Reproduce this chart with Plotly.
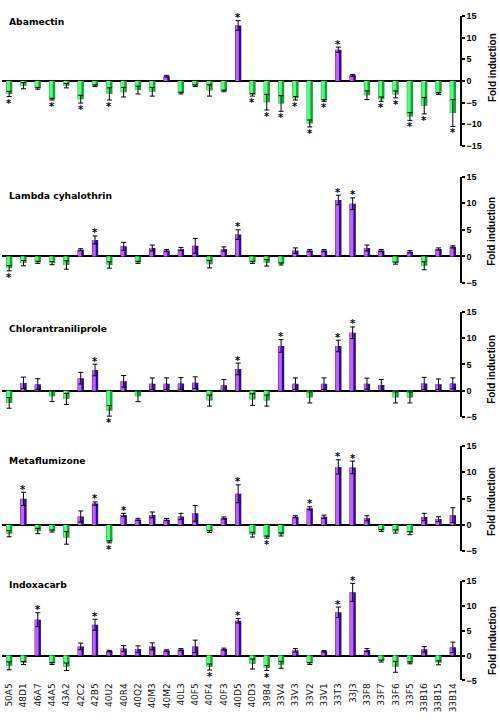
import plotly.graph_objects as go

genes = ["50A5", "48D1", "46A7", "44A5", "43A2", "42C2", "42B5", "40U2", "40R4", "40Q2",
         "40M3", "40M2", "40L3", "40F5", "40F4", "40F3", "40D5", "40D3", "39B4", "33V4",
         "33V3", "33V2", "33V1", "33T3", "33J3", "33F8", "33F7", "33F6", "33F5", "33B16",
         "33B15", "33B14"]

panel_titles = ["Abamectin", "Lambda cyhalothrin", "Chlorantraniliprole", "Metaflumizone", "Indoxacarb"]

abamectin = [-3.0, -1.1, -1.7, -4.2, -1.1, -4.2, -1.1, -3.0, -2.6, -2.1, -2.5, 1.1, -2.8, -1.1, -2.2, -2.3,
             12.8, -3.2, -4.9, -5.2, -4.0, -9.8, -4.5, 7.2, 1.3, -3.3, -4.2, -3.1, -8.2, -5.7, -2.9, -7.4]
abamectin_err = [0.6, 0.7, 0.2, 0.2, 0.5, 0.9, 0.2, 1.4, 1.1, 0.9, 1.0, 0.2, 0.2, 0.2, 1.3, 0.2,
                 1.1, 0.3, 1.8, 1.8, 0.4, 0.8, 0.2, 0.6, 0.2, 1.0, 0.5, 0.8, 0.9, 1.9, 0.2, 3.1]
abamectin_sig = [0, 3, 5, 7, 16, 17, 18, 19, 20, 21, 22, 23, 26, 27, 28, 29, 31]

lambda_cy = [-2.2, -1.25, -1.1, -1.25, -1.6, 1.25, 3.1, -1.6, 1.9, -1.1, 1.6, 1.1, 1.4, 2.0, -1.45, 1.4,
             4.1, -1.1, -1.2, -1.4, 1.1, 1.1, 1.1, 10.6, 9.9, 1.6, 1.1, -1.25, 0.9, -1.75, 1.4, 1.8]
lambda_cy_err = [0.5, 0.5, 0.2, 0.3, 0.8, 0.2, 0.75, 0.6, 0.75, 0.2, 0.55, 0.2, 0.3, 1.4, 0.7, 0.4,
                 0.9, 0.2, 0.6, 0.2, 0.5, 0.2, 0.2, 0.9, 1.1, 0.55, 0.2, 0.2, 0.2, 0.75, 0.2, 0.2]
lambda_cy_sig = [0, 6, 16, 23, 24]

chlorant = [-2.3, 1.5, 1.25, -1.05, -1.55, 2.4, 3.95, -3.8, 1.8, -1.05, 1.35, 1.35, 1.4, 1.55, -1.85, 1.05,
            4.15, -1.65, -1.85, 8.5, 1.35, -1.25, 1.35, 8.5, 11.0, 1.35, 1.1, -1.25, -1.25, 1.4, 1.25, 1.4]
chlorant_err = [1.0, 1.1, 1.05, 1.0, 1.05, 1.1, 1.1, 1.0, 1.1, 1.0, 1.1, 1.1, 1.1, 1.1, 1.05, 1.1,
                1.1, 1.1, 1.05, 1.2, 1.1, 1.05, 1.1, 1.1, 1.1, 1.05, 1.05, 1.05, 1.05, 1.15, 1.0, 1.05]
chlorant_sig = [6, 7, 16, 19, 23, 24]

metaflu = [-1.65, 4.95, -1.15, -1.15, -2.45, 1.6, 4.05, -3.2, 1.9, 1.05, 1.9, 1.0, 1.6, 2.2, -1.25, 1.3,
           5.9, -1.85, -2.3, -1.8, 1.55, 3.15, 1.55, 11.0, 10.9, 1.25, -1.05, -1.25, -1.55, 1.5, 1.1, 1.85]
metaflu_err = [0.6, 1.25, 0.5, 0.2, 1.2, 1.05, 0.3, 0.2, 0.3, 0.2, 0.55, 0.2, 0.6, 1.5, 0.2, 0.2,
               1.7, 0.45, 0.2, 0.3, 0.2, 0.3, 0.3, 1.35, 1.2, 0.5, 0.2, 0.3, 0.3, 0.7, 0.45, 1.4]
metaflu_sig = [1, 6, 7, 8, 16, 18, 21, 23, 24]

indoxa = [-2.05, -1.5, 7.2, -1.6, -2.25, 1.85, 6.2, 0.9, 1.4, 1.3, 1.85, 1.0, 1.2, 1.85, -2.3, 1.3,
          7.0, -1.7, -2.5, -1.85, 1.05, -1.6, 0.85, 8.7, 12.7, 1.1, -1.1, -2.25, -1.45, 1.25, -1.45, 1.65]
indoxa_err = [0.8, 0.3, 1.4, 0.2, 0.75, 0.65, 1.1, 0.15, 0.6, 0.65, 0.7, 0.15, 0.2, 1.25, 0.6, 0.2,
              0.45, 1.0, 0.5, 0.7, 0.35, 0.2, 0.15, 1.05, 1.8, 0.3, 0.2, 1.1, 0.2, 0.55, 0.4, 1.05]
indoxa_sig = [2, 6, 14, 16, 18, 23, 24]

y_ranges = [[-15, 15], [-5, 15], [-5, 15], [-5, 15], [-5, 15]]
y_ticks = [[-15, -10, -5, 0, 5, 10, 15], [-5, 0, 5, 10, 15], [-5, 0, 5, 10, 15],
           [-5, 0, 5, 10, 15], [-5, 0, 5, 10, 15]]

panels = [
    (abamectin, abamectin_err, abamectin_sig),
    (lambda_cy, lambda_cy_err, lambda_cy_sig),
    (chlorant, chlorant_err, chlorant_sig),
    (metaflu, metaflu_err, metaflu_sig),
    (indoxa, indoxa_err, indoxa_sig),
]

W, H = 500, 720
# pixel positions of panel tops/bottoms (value 15 / lowest tick)
panel_px = [(11, 143), (174, 282), (311, 418), (447, 554), (584, 685)]
title_px = [17, 193, 328, 462, 588]
ytitle_px = [64, 230, 370, 504, 645]

PURPLE_DARK = "#2c0c94"
PURPLE_LIGHT = "#c65cff"
GREEN_DARK = "#12a338"
GREEN_LIGHT = "#4dff7a"

fig = go.Figure()
layout = dict(
    width=W, height=H,
    margin=dict(l=0, r=0, t=0, b=0),
    paper_bgcolor="white", plot_bgcolor="white",
    showlegend=False, barmode="overlay",
    font=dict(family="DejaVu Sans", color="black"),
    annotations=[],
)

for i, (vals, errs, sig) in enumerate(panels):
    n = i + 1
    xa = "x" if n == 1 else f"x{n}"
    ya = "y" if n == 1 else f"y{n}"
    dark = [PURPLE_DARK if v > 0 else GREEN_DARK for v in vals]
    light = [PURPLE_LIGHT if v > 0 else GREEN_LIGHT for v in vals]
    fig.add_trace(go.Bar(x=genes, y=vals, width=0.44, marker=dict(color=dark, line=dict(width=0)),
                         xaxis=xa, yaxis=ya, hoverinfo="skip"))
    fig.add_trace(go.Bar(x=genes, y=vals, width=0.24, offset=-0.19,
                         marker=dict(color=light, line=dict(width=0)),
                         xaxis=xa, yaxis=ya, hoverinfo="skip"))
    fig.add_trace(go.Scatter(x=genes, y=vals, mode="markers", marker=dict(size=1, opacity=0),
                             error_y=dict(type="data", array=errs, visible=True, color="black",
                                          thickness=1, width=2.5),
                             xaxis=xa, yaxis=ya, hoverinfo="skip"))
    # significance stars, placed just beyond the error bar end
    for k in sig:
        v, e = vals[k], errs[k]
        layout["annotations"].append(dict(
            text="<b>*</b>", x=genes[k], y=(v + e) if v > 0 else (v - e),
            xref=xa, yref=ya, xanchor="center", yanchor="middle",
            yshift=3 if v > 0 else -6.5, showarrow=False,
            font=dict(size=10, family="DejaVu Sans", color="black")))

    dom = [1 - panel_px[i][1] / H, 1 - panel_px[i][0] / H]
    layout["xaxis" if n == 1 else f"xaxis{n}"] = dict(
        domain=[2 / W, 460 / W], anchor=ya, showgrid=False, zeroline=False, showline=False,
        ticks="", showticklabels=(n == 5), tickangle=-90,
        tickfont=dict(size=9, family="DejaVu Sans", color="#111"),
        range=[-0.5, len(genes) - 0.5],
    )
    layout["yaxis" if n == 1 else f"yaxis{n}"] = dict(
        domain=dom, anchor=xa, side="right", range=y_ranges[i], tickvals=y_ticks[i],
        showgrid=False, zeroline=True, zerolinecolor="black", zerolinewidth=1.5,
        showline=True, linecolor="black", linewidth=1.5, ticks="outside", ticklen=3,
        tickwidth=1.5, tickcolor="black",
        tickfont=dict(size=9, family="Liberation Sans", color="black", weight="bold"),
    )
    layout["annotations"].append(dict(
        text=f"<b>{panel_titles[i]}</b>", xref="paper", yref="paper",
        x=7 / W, y=1 - title_px[i] / H, xanchor="left", yanchor="middle", showarrow=False,
        font=dict(size=9.2, family="DejaVu Sans", color="black")))
    layout["annotations"].append(dict(
        text="<b>Fold induction</b>", xref="paper", yref="paper",
        x=492 / W, y=1 - ytitle_px[i] / H, xanchor="center", yanchor="middle",
        textangle=-90, showarrow=False,
        font=dict(size=10, family="Liberation Sans", color="black")))

fig.update_layout(**layout)
fig.write_html("out.html", config={"displayModeBar": False},
               post_script="document.body.style.margin='0px';")
